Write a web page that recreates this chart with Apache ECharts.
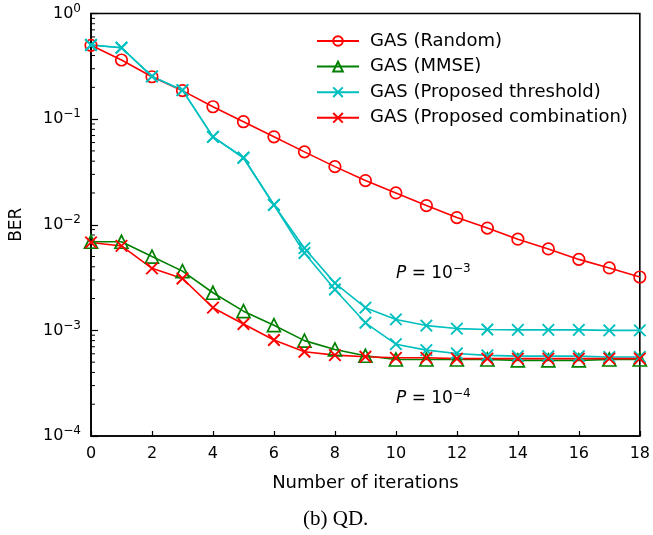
<!DOCTYPE html>
<html>
<head>
<meta charset="utf-8">
<script src="https://cdn.jsdelivr.net/npm/echarts@6/dist/echarts.min.js"></script>
<style>
  html, body { margin: 0; padding: 0; background: #fff; }
  #chart { width: 653px; height: 535px; }
</style>
</head>
<body>
<div id="chart"></div>
<script>
// Iteration index and BER curves
const iterations = [0,1,2,3,4,5,6,7,8,9,10,11,12,13,14,15,16,17,18];
const berRandom = [0.50,0.363,0.252,0.186,0.131,0.0945,0.0680,0.0490,0.0355,0.0262,0.0200,0.0152,0.0117,0.0093,0.0073,0.0059,0.0047,0.0039,0.0032];
const berMMSE = [0.0069,0.0069,0.0050,0.00364,0.00227,0.00152,0.00112,0.00080,0.00066,0.000575,0.00053,0.00053,0.00053,0.00053,0.00052,0.00052,0.00052,0.00053,0.00053];
const berThresholdP3 = [0.503,0.474,0.254,0.188,0.068,0.0431,0.0154,0.0060,0.0028,0.00164,0.00127,0.00111,0.00104,0.00102,0.00101,0.00101,0.00101,0.00100,0.00100];
const berThresholdP4 = [0.503,0.474,0.254,0.188,0.068,0.0431,0.0154,0.0054,0.00244,0.00118,0.00074,0.00065,0.000605,0.00058,0.00057,0.00057,0.00057,0.00056,0.00056];
const berCombination = [0.0068,0.0063,0.00387,0.0031,0.00164,0.00115,0.00081,0.000627,0.000583,0.000563,0.00055,0.00055,0.00054,0.00054,0.00054,0.00054,0.00054,0.00054,0.00054];
const xTicks = [0,2,4,6,8,10,12,14,16,18];
const seriesNames = ['GAS (Random)','GAS (MMSE)','GAS (Proposed threshold)','GAS (Proposed combination)'];

// minor log ticks (2..9 times each decade)
const minorTicks = [];
for (let d = -4; d < 0; d++) for (let m = 2; m <= 9; m++) minorTicks.push(m * Math.pow(10, d));

const RED = '#ff0000', GREEN = '#008000', CYAN = '#00bfbf';
const CROSS = 'path://M0,0L10,10M10,0L0,10';
const FONT = 'DejaVu Sans';

function pairs(vals) { return iterations.map((x, i) => [x, vals[i]]); }

function lineSeries(name, vals, color, symbol, isCross) {
  return {
    name: name,
    type: 'line',
    data: pairs(vals),
    symbol: symbol,
    symbolSize: symbol === 'triangle' ? 13 : 11.5,
    showSymbol: true,
    animation: false,
    lineStyle: { color: color, width: 1.6 },
    itemStyle: { color: 'rgba(0,0,0,0)', borderColor: color, borderWidth: isCross ? 1.9 : 1.7 },
    emphasis: { disabled: true },
    z: 3
  };
}

const supLabel = function (exp, size, supSize, raise) {
  return {
    text: '{i|P}{t| = 10}{s|\u2212' + exp + '}',
    rich: {
      i: { fontSize: size, fontStyle: 'italic', fontFamily: FONT, fill: '#000' },
      t: { fontSize: size, fontFamily: FONT, fill: '#000' },
      s: { fontSize: supSize, fontFamily: FONT, fill: '#000', padding: [0, 0, raise, 0] }
    }
  };
};

const chart = echarts.init(document.getElementById('chart'), null, { renderer: 'canvas' });

chart.setOption({
  animation: false,
  backgroundColor: '#fff',
  textStyle: { fontFamily: FONT },
  grid: {
    left: 89.5, right: 12, top: 13.5, bottom: 99,
    show: true, borderColor: '#000', borderWidth: 1.6, backgroundColor: 'transparent'
  },
  legend: {
    data: seriesNames,
    orient: 'vertical',
    left: 311, top: 27,
    itemWidth: 42, itemHeight: 12, itemGap: 7.6,
    textStyle: { fontFamily: FONT, fontSize: 18, color: '#000', padding: [0,0,0,6] },
    inactiveColor: '#ccc'
  },
  xAxis: {
    type: 'value', min: 0, max: 18, interval: 2,
    axisLine: { show: true, lineStyle: { color: '#000', width: 1.6 } },
    axisTick: { show: true, inside: true, length: 5, lineStyle: { color: '#000', width: 1.2 } },
    axisLabel: {
      color: '#000', fontSize: 16, fontFamily: FONT, margin: 10,
      customValues: xTicks
    },
    splitLine: { show: false },
    name: 'Number of iterations', nameLocation: 'middle', nameGap: 38,
    nameTextStyle: { color: '#000', fontSize: 18, fontFamily: FONT }
  },
  yAxis: {
    type: 'log', logBase: 10, min: 1e-4, max: 1,
    axisLine: { show: true, lineStyle: { color: '#000', width: 1.6 } },
    axisTick: { show: true, inside: true, length: 7, lineStyle: { color: '#000', width: 1.2 } },
    axisLabel: {
      margin: 10,
      formatter: function (v) {
        const e = Math.round(Math.log10(v));
        return '{b|10}{s|' + (e < 0 ? '\u2212' + (-e) : e) + '}';
      },
      rich: {
        b: { fontSize: 16, color: '#000', fontFamily: FONT },
        s: { fontSize: 12, color: '#000', fontFamily: FONT, padding: [0, 0, 10, 0] }
      }
    },
    splitLine: { show: false },
    name: 'BER', nameLocation: 'middle', nameGap: 66, nameRotate: 90,
    nameTextStyle: { color: '#000', fontSize: 17, fontFamily: FONT }
  },
  series: [
    lineSeries(seriesNames[0], berRandom, RED, 'circle', false),
    lineSeries(seriesNames[1], berMMSE, GREEN, 'triangle', false),
    lineSeries(seriesNames[2], berThresholdP3, CYAN, CROSS, true),
    lineSeries(seriesNames[2], berThresholdP4, CYAN, CROSS, true),
    lineSeries(seriesNames[3], berCombination, RED, CROSS, true),
    {
      // minor ticks on the left log axis
      type: 'custom',
      name: 'minorTicks',
      silent: true,
      animation: false,
      clip: false,
      data: minorTicks.map(v => [0, v]),
      renderItem: function (params, api) {
        const p = api.coord([0, api.value(1)]);
        return {
          type: 'line',
          shape: { x1: p[0], y1: p[1], x2: p[0] + 4, y2: p[1] },
          style: { stroke: '#000', lineWidth: 1 }
        };
      },
      z: 1
    }
  ],
  graphic: [
    { type: 'text', left: 396, top: 263, style: supLabel(3, 17, 12, 10) },
    { type: 'text', left: 396, top: 388, style: supLabel(4, 17, 12, 10) },
    {
      type: 'text', left: 303, top: 509,
      style: {
        text: '(b) QD.',
        font: '21px "Liberation Serif", "DejaVu Serif", serif',
        fill: '#000'
      }
    }
  ]
});
</script>
</body>
</html>
